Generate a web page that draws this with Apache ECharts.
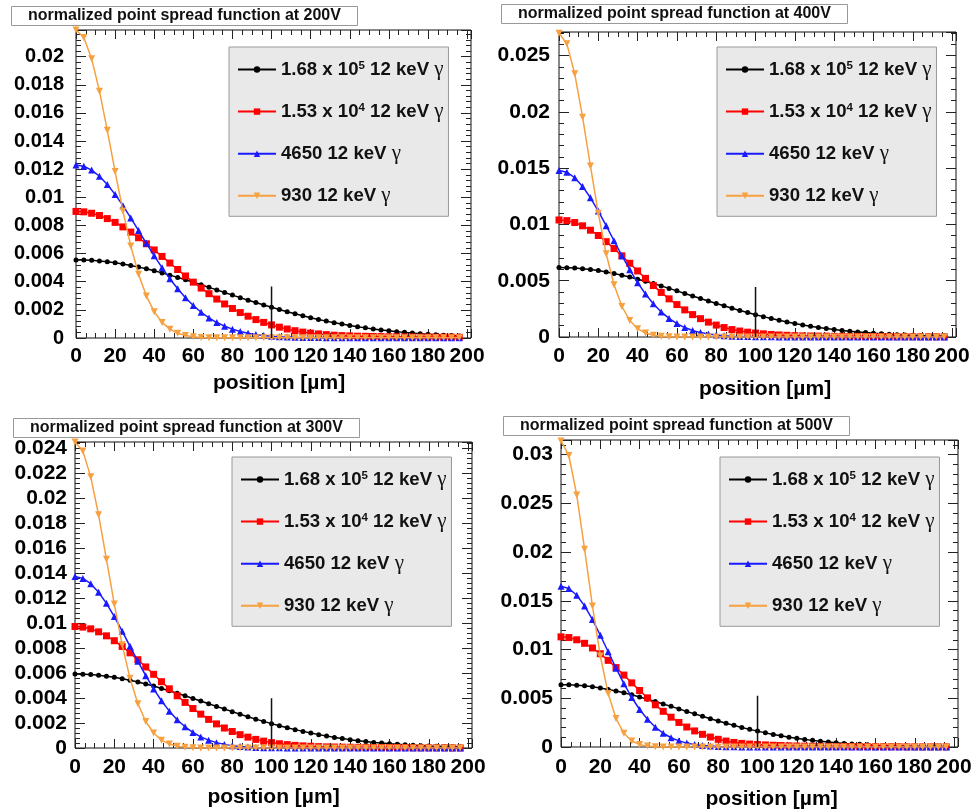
<!DOCTYPE html>
<html><head><meta charset="utf-8">
<script src="https://cdn.jsdelivr.net/npm/echarts@6/dist/echarts.min.js"></script>
<style>html,body{margin:0;padding:0;background:#fff}#c{width:976px;height:811px}</style>
</head><body><div id="c"></div><script>
// ---------------- data ----------------
const positions = [0,4,8,12,16,20,24,28,32,36,40,44,48,52,56,60,64,68,72,76,80,84,88,92,96,100,104,108,112,116,120,124,128,132,136,140,144,148,152,156,160,164,168,172,176,180,184,188,192,196];
const legendMain = ['1.68 x 10', '1.53 x 10', '4650', '930'];
const legendExp = ['5', '4', '', ''];
const seriesNames = legendMain.map((m, i) => m + (legendExp[i] ? '^' + legendExp[i] : '') + ' 12 keV γ');
const panelTitles = ['normalized point spread function at 200V','normalized point spread function at 400V','normalized point spread function at 300V','normalized point spread function at 500V'];
const xTitle = 'position [µm]';
const yMaxes = [0.0219, 0.0271, 0.0245, 0.0315];
const ySteps = [0.002, 0.005, 0.002, 0.005];
const xMax = 202;
const xStep = 20;
const markerX = 100;
const markerHeights = [0.00366, 0.00444, 0.00399, 0.00527];

const black200 = [0.00555,0.00554,0.00552,0.00548,0.00542,0.00535,0.00526,0.00516,0.00504,0.00492,0.00478,0.00463,0.00447,0.00431,0.00414,0.00396,0.00379,0.00360,0.00342,0.00324,0.00305,0.00287,0.00269,0.00252,0.00235,0.00218,0.00202,0.00187,0.00172,0.00158,0.00144,0.00132,0.00120,0.00109,0.00099,0.00089,0.00080,0.00072,0.00064,0.00057,0.00051,0.00045,0.00040,0.00035,0.00031,0.00027,0.00023,0.00020,0.00018,0.00015];
const red200 = [0.00900,0.00897,0.00887,0.00871,0.00849,0.00822,0.00790,0.00753,0.00713,0.00670,0.00626,0.00580,0.00533,0.00487,0.00441,0.00397,0.00355,0.00315,0.00277,0.00242,0.00210,0.00181,0.00155,0.00131,0.00111,0.00093,0.00077,0.00064,0.00052,0.00042,0.00035,0.00029,0.00024,0.00020,0.00017,0.00015,0.00013,0.00012,0.00011,0.00010,0.00009,0.00009,0.00008,0.00008,0.00007,0.00007,0.00006,0.00006,0.00006,0.00005];
const blue200 = [0.01230,0.01221,0.01194,0.01150,0.01092,0.01021,0.00941,0.00854,0.00764,0.00673,0.00584,0.00500,0.00421,0.00350,0.00286,0.00231,0.00183,0.00143,0.00110,0.00084,0.00063,0.00046,0.00034,0.00024,0.00017,0.00012,0.00009,0.00007,0.00005,0.00004,0.00003,0.00003,0.00002,0.00002,0.00002,0.00001,0.00001,0.00001,0.00001,0.00001,0.00001,0.00001,0.00001,0.00001,0.00001,0.00001,0.00001,0.00001,0.00001,0.00001];
const orange200 = [0.02190,0.02137,0.01985,0.01755,0.01477,0.01183,0.00903,0.00655,0.00453,0.00298,0.00187,0.00111,0.00063,0.00034,0.00018,0.00009,0.00004,0.00002,0.00001,0.00001,0.00001,0.00001,0.00001,0.00001,0.00001,0.00001,0.00001,0.00001,0.00001,0.00001,0.00001,0.00001,0.00001,0.00001,0.00001,0.00001,0.00001,0.00001,0.00001,0.00001,0.00001,0.00001,0.00001,0.00001,0.00001,0.00001,0.00001,0.00001,0.00001,0.00001];

const black400 = [0.00617,0.00616,0.00613,0.00607,0.00599,0.00590,0.00578,0.00564,0.00549,0.00533,0.00514,0.00495,0.00475,0.00454,0.00432,0.00410,0.00387,0.00365,0.00342,0.00320,0.00298,0.00277,0.00256,0.00236,0.00217,0.00198,0.00181,0.00164,0.00148,0.00134,0.00120,0.00107,0.00096,0.00085,0.00075,0.00067,0.00058,0.00051,0.00045,0.00039,0.00034,0.00029,0.00025,0.00021,0.00018,0.00016,0.00013,0.00011,0.00009,0.00008];
const red400 = [0.01040,0.01034,0.01017,0.00988,0.00949,0.00902,0.00847,0.00786,0.00721,0.00655,0.00587,0.00521,0.00457,0.00396,0.00339,0.00288,0.00241,0.00199,0.00163,0.00132,0.00106,0.00084,0.00066,0.00053,0.00043,0.00035,0.00028,0.00022,0.00018,0.00015,0.00012,0.00010,0.00009,0.00008,0.00007,0.00006,0.00006,0.00005,0.00005,0.00004,0.00004,0.00004,0.00003,0.00003,0.00003,0.00003,0.00002,0.00002,0.00002,0.00002];
const blue400 = [0.01480,0.01464,0.01415,0.01338,0.01237,0.01119,0.00989,0.00855,0.00723,0.00598,0.00483,0.00382,0.00296,0.00223,0.00165,0.00119,0.00084,0.00058,0.00039,0.00026,0.00017,0.00011,0.00007,0.00005,0.00004,0.00003,0.00002,0.00002,0.00001,0.00001,0.00001,0.00001,0.00001,0.00001,0.00001,0.00001,0.00001,0.00001,0.00001,0.00001,0.00001,0.00001,0.00001,0.00001,0.00001,0.00001,0.00001,0.00001,0.00001,0.00001];
const orange400 = [0.02700,0.02605,0.02338,0.01953,0.01519,0.01099,0.00740,0.00464,0.00271,0.00147,0.00074,0.00035,0.00015,0.00006,0.00002,0.00001,0.00001,0.00001,0.00001,0.00001,0.00001,0.00001,0.00001,0.00001,0.00001,0.00001,0.00001,0.00001,0.00001,0.00001,0.00001,0.00001,0.00001,0.00001,0.00001,0.00001,0.00001,0.00001,0.00001,0.00001,0.00001,0.00001,0.00001,0.00001,0.00001,0.00001,0.00001,0.00001,0.00001,0.00001];

const black300 = [0.00592,0.00591,0.00588,0.00583,0.00575,0.00566,0.00555,0.00543,0.00528,0.00513,0.00496,0.00477,0.00458,0.00438,0.00418,0.00397,0.00376,0.00354,0.00333,0.00312,0.00291,0.00270,0.00250,0.00231,0.00213,0.00195,0.00178,0.00162,0.00147,0.00133,0.00120,0.00107,0.00096,0.00085,0.00076,0.00067,0.00059,0.00052,0.00045,0.00040,0.00034,0.00030,0.00026,0.00022,0.00019,0.00016,0.00014,0.00012,0.00010,0.00008];
const red300 = [0.00973,0.00968,0.00954,0.00930,0.00898,0.00859,0.00813,0.00762,0.00707,0.00649,0.00590,0.00531,0.00474,0.00418,0.00365,0.00316,0.00271,0.00229,0.00193,0.00160,0.00132,0.00107,0.00087,0.00069,0.00055,0.00043,0.00034,0.00027,0.00021,0.00017,0.00014,0.00011,0.00009,0.00008,0.00007,0.00006,0.00005,0.00005,0.00004,0.00004,0.00003,0.00003,0.00003,0.00002,0.00002,0.00002,0.00002,0.00002,0.00001,0.00001];
const blue300 = [0.01373,0.01358,0.01316,0.01247,0.01158,0.01052,0.00935,0.00814,0.00694,0.00579,0.00473,0.00378,0.00295,0.00226,0.00170,0.00125,0.00089,0.00063,0.00043,0.00029,0.00019,0.00012,0.00008,0.00005,0.00003,0.00002,0.00002,0.00001,0.00001,0.00001,0.00001,0.00001,0.00001,0.00001,0.00001,0.00001,0.00001,0.00001,0.00001,0.00001,0.00001,0.00001,0.00001,0.00001,0.00001,0.00001,0.00001,0.00001,0.00001,0.00001];
const orange300 = [0.02450,0.02377,0.02171,0.01867,0.01511,0.01152,0.00826,0.00558,0.00355,0.00212,0.00120,0.00063,0.00032,0.00015,0.00007,0.00003,0.00001,0.00001,0.00001,0.00001,0.00001,0.00001,0.00001,0.00001,0.00001,0.00001,0.00001,0.00001,0.00001,0.00001,0.00001,0.00001,0.00001,0.00001,0.00001,0.00001,0.00001,0.00001,0.00001,0.00001,0.00001,0.00001,0.00001,0.00001,0.00001,0.00001,0.00001,0.00001,0.00001,0.00001];

const black500 = [0.00640,0.00639,0.00634,0.00628,0.00618,0.00606,0.00591,0.00575,0.00556,0.00536,0.00514,0.00491,0.00467,0.00442,0.00417,0.00391,0.00365,0.00340,0.00315,0.00290,0.00266,0.00243,0.00222,0.00201,0.00181,0.00163,0.00145,0.00129,0.00115,0.00101,0.00089,0.00078,0.00068,0.00059,0.00051,0.00044,0.00037,0.00032,0.00027,0.00023,0.00019,0.00016,0.00013,0.00011,0.00009,0.00008,0.00006,0.00005,0.00004,0.00003];
const red500 = [0.01130,0.01123,0.01100,0.01064,0.01016,0.00957,0.00889,0.00815,0.00738,0.00658,0.00580,0.00504,0.00433,0.00366,0.00306,0.00252,0.00205,0.00165,0.00130,0.00102,0.00079,0.00061,0.00047,0.00037,0.00030,0.00025,0.00021,0.00018,0.00015,0.00012,0.00010,0.00009,0.00008,0.00007,0.00006,0.00005,0.00005,0.00004,0.00004,0.00004,0.00003,0.00003,0.00003,0.00003,0.00002,0.00002,0.00002,0.00002,0.00002,0.00002];
const blue500 = [0.01650,0.01626,0.01557,0.01448,0.01307,0.01147,0.00977,0.00809,0.00650,0.00508,0.00385,0.00284,0.00203,0.00141,0.00095,0.00063,0.00040,0.00025,0.00015,0.00009,0.00005,0.00003,0.00002,0.00001,0.00001,0.00001,0.00001,0.00001,0.00001,0.00001,0.00001,0.00001,0.00001,0.00001,0.00001,0.00001,0.00001,0.00001,0.00001,0.00001,0.00001,0.00001,0.00001,0.00001,0.00001,0.00001,0.00001,0.00001,0.00001,0.00001];
const orange500 = [0.03140,0.02991,0.02586,0.02030,0.01446,0.00934,0.00548,0.00292,0.00141,0.00062,0.00025,0.00009,0.00003,0.00001,0.00001,0.00001,0.00001,0.00001,0.00001,0.00001,0.00001,0.00001,0.00001,0.00001,0.00001,0.00001,0.00001,0.00001,0.00001,0.00001,0.00001,0.00001,0.00001,0.00001,0.00001,0.00001,0.00001,0.00001,0.00001,0.00001,0.00001,0.00001,0.00001,0.00001,0.00001,0.00001,0.00001,0.00001,0.00001,0.00001];

const panelData = [
  [black200, red200, blue200, orange200],
  [black400, red400, blue400, orange400],
  [black300, red300, blue300, orange300],
  [black500, red500, blue500, orange500]
];

// ---------------- layout & style ----------------
const FONT = '"Liberation Sans", Arial, sans-serif';
const layout = [
  {grid:{left:76, top:30, width:395, height:308}, title:{left:11, top:6}, legend:{left:229, top:47}, yFont:20, yMargin:12, xMargin:8, nameGap:35, nameShift:11},
  {grid:{left:559, top:32, width:397, height:305}, title:{left:501, top:4}, legend:{left:717, top:47}, yFont:21, yMargin:9, xMargin:9, nameGap:42, nameShift:15},
  {grid:{left:75, top:442, width:397, height:306}, title:{left:13, top:418}, legend:{left:232, top:457}, yFont:21, yMargin:8, xMargin:9, nameGap:39, nameShift:0},
  {grid:{left:561, top:440, width:397, height:308}, title:{left:503, top:416}, legend:{left:720, top:457}, yFont:21, yMargin:8, xMargin:10, nameGap:42, nameShift:24}
];
const seriesStyle = [
  {color:'#000000', symbol:'circle', size:5},
  {color:'#ff0000', symbol:'rect', size:7},
  {color:'#1a1aff', symbol:'triangle', size:7},
  {color:'#f7a040', symbol:'path://M0,0 L10,0 L5,9 Z', size:7}
];

const grids = [], xAxes = [], yAxes = [], series = [], titles = [], legends = [];
const tickColor = '#222';

layout.forEach((L, p) => {
  grids.push(Object.assign({show:true, borderColor:'#111', borderWidth:1, backgroundColor:'transparent'}, L.grid));
  const xBase = () => ({type:'value', gridIndex:p, min:0, max:xMax, interval:xStep,
    axisLine:{show:false, onZero:false}, splitLine:{show:false},
    axisTick:{inside:true, length:9, lineStyle:{color:tickColor, width:1}},
    minorTick:{show:true, splitNumber:4, length:5, lineStyle:{color:tickColor, width:1}}});
  xAxes.push(Object.assign(xBase(), {position:'bottom',
    axisLabel:{fontSize:21, fontWeight:'bold', color:'#000', fontFamily:FONT, margin:L.xMargin, showMaxLabel:false},
    name:xTitle, nameLocation:'middle', nameGap:L.nameGap,
    nameTextStyle:{fontSize:21, fontWeight:'bold', color:'#000', fontFamily:FONT, padding:[0,0,0,L.nameShift]}}));
  xAxes.push(Object.assign(xBase(), {position:'top', axisLabel:{show:false}}));
  const yBase = () => ({type:'value', gridIndex:p, min:0, max:yMaxes[p], interval:ySteps[p],
    axisLine:{show:false, onZero:false}, splitLine:{show:false},
    axisTick:{inside:true, length:10, lineStyle:{color:tickColor, width:1}},
    minorTick:{show:true, splitNumber:5, length:5, lineStyle:{color:tickColor, width:1}}});
  yAxes.push(Object.assign(yBase(), {position:'left',
    axisLabel:{fontSize:L.yFont, fontWeight:'bold', color:'#000', fontFamily:FONT, margin:L.yMargin, showMaxLabel:false}}));
  yAxes.push(Object.assign(yBase(), {position:'right', axisLabel:{show:false}}));

  panelData[p].forEach((vals, k) => {
    const st = seriesStyle[k];
    series.push({
      type:'line', name:seriesNames[k], xAxisIndex:2*p, yAxisIndex:2*p,
      data: positions.map((x, i) => [x, vals[i]]),
      symbol:st.symbol, symbolSize:st.size, showSymbol:true, showAllSymbol:true,
      lineStyle:{color:st.color, width:1.5}, itemStyle:{color:st.color},
      z: 2 + k, animation:false, silent:true
    });
  });
  series.push({
    type:'line', name:'marker', xAxisIndex:2*p, yAxisIndex:2*p,
    data:[[markerX, 0], [markerX, markerHeights[p]]],
    symbol:'none', lineStyle:{color:'#111', width:1.5}, z:10, animation:false, silent:true
  });

  titles.push({text:panelTitles[p], left:L.title.left, top:L.title.top,
    padding:[1,17,1,17], borderColor:'#999', borderWidth:1, backgroundColor:'#fff',
    textStyle:{fontSize:16, fontWeight:'bold', color:'#111', fontFamily:FONT, lineHeight:18}});

  legends.push({left:L.legend.left, top:L.legend.top, orient:'vertical', data:seriesNames,
    selectedMode:false, backgroundColor:'#e9e9e9', borderColor:'#999', borderWidth:1,
    padding:[12,5,10,8], itemGap:21.1, itemWidth:38, itemHeight:8,
    formatter: name => {
      const i = seriesNames.indexOf(name);
      return '{a|' + legendMain[i] + '}' + (legendExp[i] ? '{s|' + legendExp[i] + '}' : '') + '{a| 12 keV }{g|γ}';
    },
    textStyle:{color:'#000', fontFamily:FONT, rich:{
      a:{fontSize:18.6, fontWeight:'bold', color:'#111', fontFamily:FONT, lineHeight:20},
      s:{fontSize:11.5, fontWeight:'bold', color:'#111', fontFamily:FONT, lineHeight:12, verticalAlign:'top'},
      g:{fontSize:21, color:'#111', fontFamily:'"Liberation Serif", serif', lineHeight:20}
    }}});
});

const chart = echarts.init(document.getElementById('c'), null, {renderer:'canvas'});
chart.setOption({
  animation:false, backgroundColor:'#fff',
  title:titles, legend:legends, grid:grids, xAxis:xAxes, yAxis:yAxes, series:series
});
</script></body></html>
